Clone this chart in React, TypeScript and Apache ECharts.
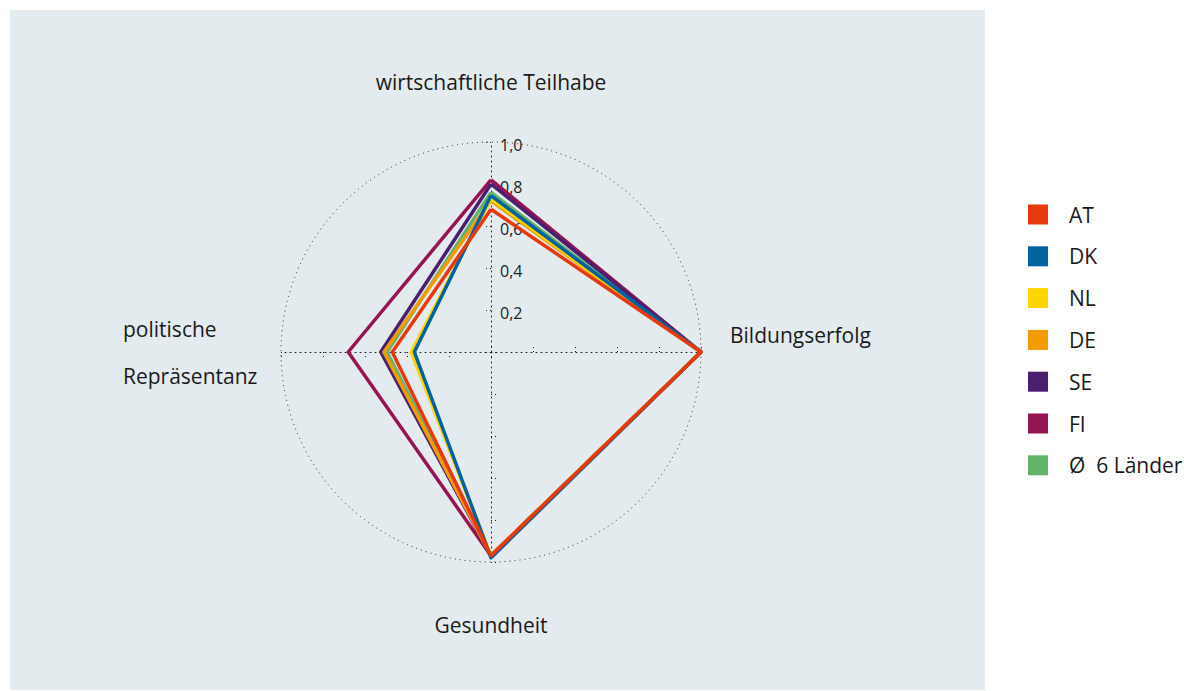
import React, { useEffect, useRef } from "react";
import * as echarts from "echarts";

// ECharts places indicators counter-clockwise from the top: top, left, bottom, right
const indicators = ["wirtschaftliche Teilhabe", "politische Repräsentanz", "Gesundheit", "Bildungserfolg"];
const tickLabels = ["", "0,2", "0,4", "0,6", "0,8", "1,0"];
const legendOrder = ["AT", "DK", "NL", "DE", "SE", "FI", "Ø  6 Länder"];
// drawing order (later on top)
const drawOrder = ["Ø  6 Länder", "FI", "SE", "DE", "NL", "DK", "AT"];

// values in indicator order: Teilhabe, Repräsentanz, Gesundheit, Bildungserfolg
const valuesAT = [0.68, 0.47, 0.97, 1.0];
const valuesDK = [0.745, 0.365, 0.98, 1.0];
const valuesNL = [0.73, 0.38, 0.97, 1.0];
const valuesDE = [0.72, 0.51, 0.97, 1.0];
const valuesSE = [0.8, 0.525, 0.97, 1.0];
const valuesFI = [0.82, 0.68, 0.97, 1.0];
const valuesAvg = [0.76, 0.495, 0.97, 1.0];

const colors: Record<string, string> = {
  AT: "#e8380d",
  DK: "#0062a0",
  NL: "#ffd500",
  DE: "#f39c00",
  SE: "#4a1f70",
  FI: "#951451",
  "Ø  6 Länder": "#63b368",
};
const values: Record<string, number[]> = {
  AT: valuesAT,
  DK: valuesDK,
  NL: valuesNL,
  DE: valuesDE,
  SE: valuesSE,
  FI: valuesFI,
  "Ø  6 Länder": valuesAvg,
};

const FONT = "'Open Sans', 'Noto Sans', sans-serif";
const TXT = "#1a1a1a";
const NAME_SIZE = 21;

export default function App() {
  const ref = useRef<HTMLDivElement>(null);
  useEffect(() => {
    if (!ref.current) return;
    const chart = echarts.init(ref.current, null, { renderer: "svg" });
    const none = "rgba(0,0,0,0)";
    chart.setOption({
      animation: false,
      backgroundColor: "#ffffff",
      textStyle: { fontFamily: FONT },
      graphic: [
        {
          type: "rect",
          z: -10,
          silent: true,
          shape: { x: 10, y: 10, width: 975, height: 680 },
          style: { fill: "#e4ebee" },
        },
      ],
      legend: {
        orient: "vertical",
        left: 1028,
        top: 204,
        padding: 0,
        itemWidth: 20,
        itemHeight: 20,
        itemGap: 20.8,
        icon: "rect",
        data: legendOrder,
        textStyle: { fontFamily: FONT, fontSize: 21, color: TXT, padding: [0, 0, 0, 16] },
      },
      radar: {
        center: [491, 352],
        radius: 210,
        shape: "circle",
        startAngle: 90,
        splitNumber: 5,
        nameGap: 24,
        indicator: indicators.map((n, i) => ({
          name: n,
          min: 0,
          max: 1,
          axisLabel:
            i === 0
              ? {
                  show: true,
                  fontSize: 16,
                  color: "#222",
                  fontFamily: FONT,
                  margin: -9,
                  align: "left",
                  formatter: (v: number) => {
                    const t = tickLabels[Math.round(v * 5)] ?? "";
                    return t ? `{t|${t}}` : "";
                  },
                  rich: {
                    t: { fontSize: 16, color: "#222", fontFamily: FONT, padding: [6, 0, 0, 0] },
                  },
                }
              : { show: false },
        })),
        axisName: {
          color: TXT,
          fontSize: NAME_SIZE,
          fontFamily: FONT,
          formatter: (name: string) => {
            if (name === "wirtschaftliche Teilhabe") return `{top|${name}}`;
            if (name === "Gesundheit") return `{bot|${name}}`;
            if (name === "politische Repräsentanz") return `{l|politische}\n{l|Repräsentanz}`;
            return `{r|${name}}`;
          },
          rich: {
            top: { fontSize: NAME_SIZE, fontFamily: FONT, color: TXT, padding: [0, 0, 26, 0] },
            bot: { fontSize: NAME_SIZE, fontFamily: FONT, color: TXT, padding: [28, 0, 0, 0] },
            r: { fontSize: NAME_SIZE, fontFamily: FONT, color: TXT, padding: [0, 0, 34, 5] },
            l: { fontSize: NAME_SIZE, fontFamily: FONT, color: TXT, width: 134, align: "left", lineHeight: 47 },
          },
        },
        axisLine: { lineStyle: { color: "#222", type: [1, 4], width: 1 } },
        axisTick: { show: true, length: 5, lineStyle: { color: "#222", type: [1, 3], width: 1 } },
        splitLine: { lineStyle: { color: [none, none, none, none, none, "#222"], type: [1, 4], width: 1 } },
        splitArea: { show: false },
        axisLabel: { show: false },
      },
      series: [
        {
          type: "radar",
          symbol: "none",
          lineStyle: { width: 3.5 },
          data: drawOrder.map((k) => ({
            name: k,
            value: values[k],
            itemStyle: { color: colors[k] },
            lineStyle: { color: colors[k], width: 3.5 },
          })),
        },
      ],
    });
    return () => chart.dispose();
  }, []);
  return (
    <div
      ref={ref}
      style={{ position: "absolute", left: 0, top: 0, width: 1184, height: 691 }}
    />
  );
}
